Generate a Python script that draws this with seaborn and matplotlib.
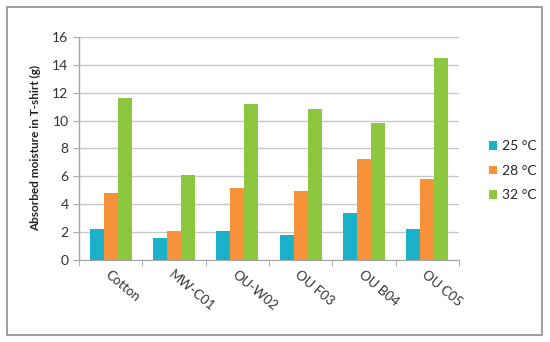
import pandas as pd
import matplotlib.pyplot as plt
import seaborn as sns
from matplotlib.patches import Rectangle

# Chart data
samples = ["Cotton", "MW-C01", "OU-W02", "OU F03", "OU B04", "OU C05"]
temps = ["25 °C", "28 °C", "32 °C"]
moisture_25 = [2.2, 1.6, 2.1, 1.8, 3.4, 2.2]
moisture_28 = [4.8, 2.1, 5.2, 4.95, 7.25, 5.8]
moisture_32 = [11.6, 6.1, 11.2, 10.85, 9.8, 14.5]

df = pd.DataFrame({
    "sample": samples * 3,
    "temp": [temps[0]] * 6 + [temps[1]] * 6 + [temps[2]] * 6,
    "value": moisture_25 + moisture_28 + moisture_32,
})

sns.set_style("white")
plt.rcParams["font.family"] = ["Lato", "DejaVu Sans"]

fig = plt.figure(figsize=(5.5, 3.42), dpi=100)
ax = fig.add_axes([0.1436, 0.2398, 0.6909, 0.652])

# outer chart frame
fig.patches.append(Rectangle((7 / 550, 7 / 342), 535 / 550, 328 / 342,
                             transform=fig.transFigure, fill=False,
                             edgecolor="#8c8c8c", linewidth=1.2))

palette = ["#1BB1C9", "#F7923A", "#8DC63F"]
sns.barplot(data=df, x="sample", y="value", hue="temp", palette=palette,
            width=0.66, saturation=1, linewidth=0, ax=ax, legend=True)

ax.set_ylim(0, 16)
ax.set_yticks(range(0, 17, 2))
ax.set_xlim(-0.5, 5.5)
ax.yaxis.grid(True, color="#c8c8c8", linewidth=1)
ax.set_axisbelow(True)
for s in ["top", "right"]:
    ax.spines[s].set_visible(False)
for s in ["left", "bottom"]:
    ax.spines[s].set_color("#a6a6a6")
ax.spines["left"].set_linewidth(1)

# ticks between groups on x axis
ax.set_xticks([i + 0.5 for i in range(-1, 6)], minor=True)
ax.tick_params(axis="x", which="minor", length=4, color="#a6a6a6", direction="out", bottom=True)
ax.tick_params(axis="x", which="major", length=0, labelsize=9.5, pad=6)
ax.tick_params(axis="y", length=4, color="#a6a6a6", direction="out", left=True,
               labelsize=10, labelcolor="#333333")
ax.set_xticks(range(len(samples)))
ax.set_xticklabels(samples, rotation=-40, ha="left", rotation_mode="anchor",
                   color="#333333")

ax.set_xlabel("")
ax.set_ylabel("Absorbed moisture in T-shirt (g)", fontsize=8.5, fontweight="bold",
              color="#222222", labelpad=8)

ax.legend(loc="center left", bbox_to_anchor=(1.08, 0.40), frameon=False,
          fontsize=10, handlelength=0.55, handleheight=0.55, handletextpad=0.35,
          labelspacing=0.9, borderaxespad=0, borderpad=0)

fig.savefig("out.png", dpi=100)
